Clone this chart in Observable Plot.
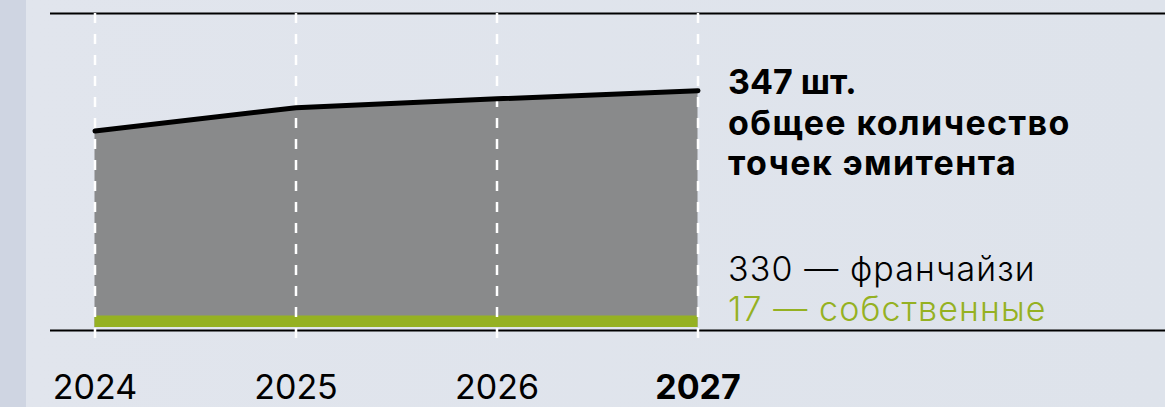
<!DOCTYPE html>
<html>
<head>
<meta charset="utf-8">
<script src="https://cdn.jsdelivr.net/npm/d3@7"></script>
<script src="https://cdn.jsdelivr.net/npm/@observablehq/plot@0.6"></script>
<style>
  html, body { margin: 0; padding: 0; }
  body {
    width: 1165px; height: 407px; overflow: hidden;
    background: linear-gradient(to right, #cfd5e2 0px, #cfd5e2 26px, #e1e5ed 26px, #dee3eb 100%);
    font-family: Inter, "Noto Sans", sans-serif;
  }
  #chart svg { display: block; }
</style>
</head>
<body>
<div id="chart"></div>
<script>
// ---- data ----
const years = [2024, 2025, 2026, 2027];
const totalPoints = [288, 322, 335, 347];
const ownPoints = [17, 17, 17, 17];
const franchisePoints2027 = 330;
const ownPoints2027 = 17;
const totalLabelLines = ["шт.", "общее количество", "точек эмитента"];
const franchiseLabel = "франчайзи";
const ownLabel = "собственные";
const highlightYear = 2027;

const table = years.map((y, i) => ({year: y, total: totalPoints[i], own: ownPoints[i]}));
const last = table[table.length - 1];

const green = "#95b122";

const chart = Plot.plot({
  width: 1165,
  height: 407,
  marginLeft: 50,
  marginRight: 0,
  marginTop: 13,
  marginBottom: 80,
  style: {background: "transparent", overflow: "visible", fontFamily: "Inter, 'Noto Sans', sans-serif"},
  x: {domain: [2024, 2027], range: [94.5, 697.5], axis: null},
  y: {domain: [0, 460], axis: null},
  marks: [
    Plot.ruleY([460], {stroke: "#000", strokeWidth: 2}),
    Plot.areaY(table, {x: "year", y: "total", fill: "#898a8b"}),
    Plot.areaY(table, {x: "year", y: "own", fill: green}),
    Plot.ruleY([0], {stroke: "#000", strokeWidth: 2, dy: 3}),
    Plot.ruleX(years, {x: d => d, stroke: "#fff", strokeWidth: 2.5, strokeDasharray: "10,11", insetBottom: -13}),
    Plot.lineY(table, {x: "year", y: "total", stroke: "#000", strokeWidth: 5}),
    Plot.text([last], {
      x: "year", y: "total",
      text: d => `${d.total} ${totalLabelLines[0]}\n${totalLabelLines[1]}\n${totalLabelLines[2]}`,
      textAnchor: "start", lineAnchor: "top", dx: 30, dy: -25,
      fontSize: 34, fontWeight: 700, lineHeight: 1.19, fill: "#000"
    }),
    Plot.text([last], {
      x: "year", y: 0,
      text: () => `${franchisePoints2027} — ${franchiseLabel}`,
      textAnchor: "start", lineAnchor: "bottom", dx: 30, dy: -47,
      fontSize: 34, fontWeight: 300, fill: "#000"
    }),
    Plot.text([last], {
      x: "year", y: 0,
      text: () => `${ownPoints2027} — ${ownLabel}`,
      textAnchor: "start", lineAnchor: "bottom", dx: 30, dy: -7,
      fontSize: 34, fontWeight: 300, fill: green
    }),
    Plot.text(years.filter(y => y !== highlightYear), {
      x: d => d, frameAnchor: "bottom", lineAnchor: "bottom", dy: 71,
      text: d => String(d), fontSize: 34, fontWeight: 400, fill: "#000"
    }),
    Plot.text([highlightYear], {
      x: d => d, frameAnchor: "bottom", lineAnchor: "bottom", dy: 71,
      text: d => String(d), fontSize: 34, fontWeight: 700, fill: "#000"
    })
  ]
});
// widen the Cyrillic words slightly to match the reference typeface
d3.select(chart).selectAll("text").each(function () {
  const t = d3.select(this);
  const spans = t.selectAll("tspan");
  if (spans.size() > 1) {
    spans.filter((d, i) => i > 0).attr("letter-spacing", "1.4px");
  } else if (/[а-я]/i.test(this.textContent) && spans.size() === 0) {
    t.attr("letter-spacing", "1.1px");
  }
});
document.getElementById("chart").appendChild(chart);
</script>
</body>
</html>
